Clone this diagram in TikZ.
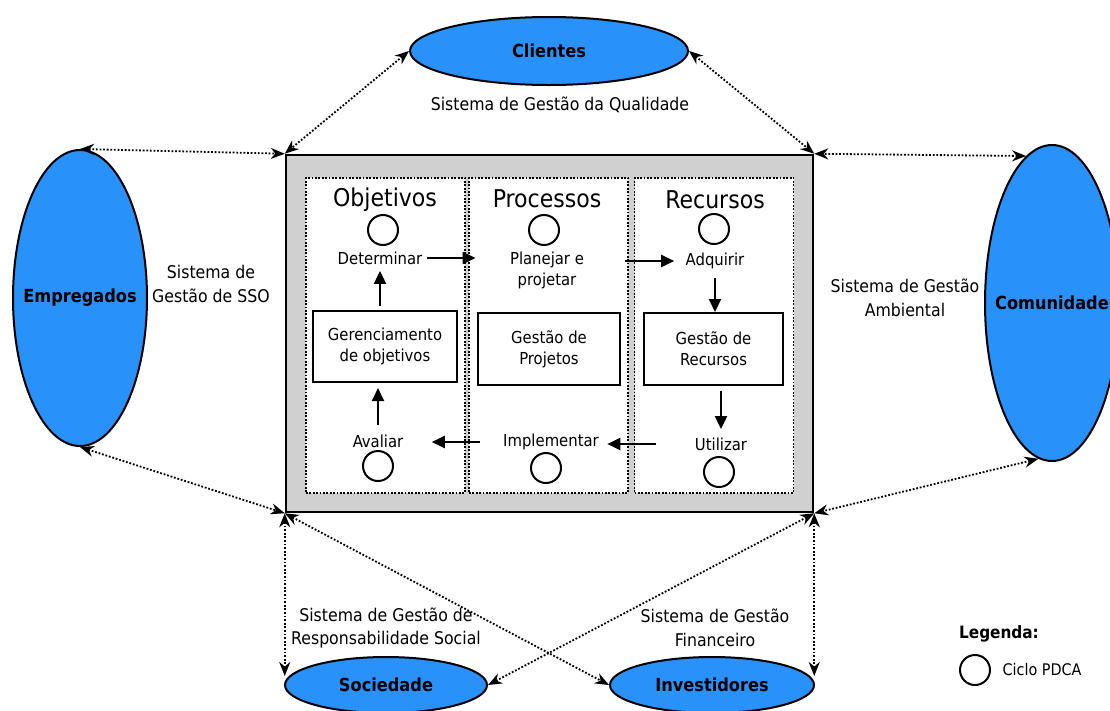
\documentclass[tikz,border=0pt]{standalone}
\usepackage{fontspec}
\setmainfont{DejaVu Sans Condensed}
\usetikzlibrary{arrows.meta,shapes.geometric}
\definecolor{partyblue}{RGB}{40,145,250}
\definecolor{panelgray}{RGB}{208,208,208}
\begin{document}
\begin{tikzpicture}[x=1pt,y=-1pt,
  party/.style={ellipse, draw, line width=2pt, fill=partyblue, inner sep=0pt},
  partytext/.style={inner sep=0pt, font=\bfseries\fontsize{18}{21}\selectfont},
  column/.style={draw, line width=1.8pt, dash pattern=on 1.8pt off 1.6pt, fill=white,
    inner sep=0pt, minimum width=159pt, minimum height=315pt},
  title/.style={font=\fontsize{24.5}{28}\selectfont},
  task/.style={draw, line width=2pt, fill=white, align=center, inner sep=0pt,
    font=\fontsize{16.5}{21}\selectfont},
  lbl/.style={align=center, font=\fontsize{16.5}{21}\selectfont},
  sys/.style={align=center, font=\fontsize{17.5}{23.5}\selectfont},
  pdca/.style={circle, draw, line width=2pt, minimum size=30pt, inner sep=0pt},
  link/.style={line width=1.8pt, dash pattern=on 1.8pt off 1.8pt,
    {Stealth[length=14pt,width=11pt]}-{Stealth[length=14pt,width=11pt]}},
  flow/.style={line width=2pt, -{Triangle[length=13pt,width=12pt]}}]
\useasboundingbox (0,0) rectangle (1110,710);

% central management frame
\node[draw, line width=2.5pt, fill=panelgray, inner sep=0pt,
  minimum width=527pt, minimum height=357pt] (main) at (549.5,333.5) {};
\node[column] (colobj) at (385.5,335.5) {};
\node[column] (colproc) at (548.5,335.5) {};
\node[column] (colrec) at (714,335.5) {};

\node[title] (tobj) at (385,200) {Objetivos};
\node[title] (tproc) at (547,199) {Processos};
\node[title] (trec) at (715,200) {Recursos};

\node[pdca] (c1) at (383,230) {};
\node[pdca] (c2) at (544,230) {};
\node[pdca] (c3) at (714,229) {};
\node[pdca] (c4) at (378,466) {};
\node[pdca] (c5) at (546,468) {};
\node[pdca] (c6) at (719,472) {};

\node[lbl] (det) at (380,258) {Determinar};
\node[lbl] (plan) at (547,270) {Planejar e\\projetar};
\node[lbl] (adq) at (715,261) {Adquirir};
\node[lbl] (aval) at (378,441) {Avaliar};
\node[lbl] (impl) at (551,442) {Implementar};
\node[lbl] (util) at (721,444) {Utilizar};

\node[task, minimum width=144pt, minimum height=71pt] (ger) at (385,346.5) {Gerenciamento\\de objetivos};
\node[task, minimum width=142pt, minimum height=72pt] (gproj) at (549,349) {Gestão de\\Projetos};
\node[task, minimum width=139pt, minimum height=72pt] (grec) at (713.5,349) {Gestão de\\Recursos};

% PDCA flow
\draw[flow, shorten <=1pt, shorten >=31pt] (det.east) -- (det.east -| plan.west);
\draw[flow, shorten <=38pt, shorten >=8pt] (plan.east |- adq.west) -- (adq.west);
\draw[flow, shorten <=5pt] (adq.south) -- (adq.south |- grec.north);
\draw[flow, shorten <=5pt, shorten >=5pt] (util.north |- grec.south) -- (util.north);
\draw[flow, shorten <=35pt, shorten >=5pt] (util.west) -- (util.west -| impl.east);
\draw[flow, shorten <=20pt, shorten >=25pt] (impl.west) -- (impl.west -| aval.east);
\draw[flow, shorten <=6pt, shorten >=5pt] (aval.north) -- (aval.north |- ger.south);
\draw[flow, shorten <=4pt, shorten >=3pt] (ger.north -| det.south) -- (det.south);

% stakeholders
\node[party, minimum width=278pt, minimum height=68pt,
  label={[partytext]center:Clientes}] (cli) at (549,51) {};
\node[party, minimum width=134pt, minimum height=296pt,
  label={[partytext]center:Empregados}] (emp) at (80,298) {};
\node[party, minimum width=134pt, minimum height=316pt,
  label={[partytext]center:Comunidade}] (com) at (1052,303) {};
\node[party, minimum width=202pt, minimum height=56pt,
  label={[partytext]center:Sociedade}] (soc) at (386,685) {};
\node[party, minimum width=204pt, minimum height=56pt,
  label={[partytext]center:Investidores}] (inv) at (712,685) {};

% management systems
\node[sys] (sq) at (560,105) {Sistema de Gestão da Qualidade};
\node[sys] (sso) at (211,284) {Sistema de\\Gestão de SSO};
\node[sys] (sga) at (905,298) {Sistema de Gestão\\Ambiental};
\node[sys] (srs) at (386,628) {Sistema de Gestão de\\Responsabilidade Social};
\node[sys] (sgf) at (715,628) {Sistema de Gestão\\Financeiro};

% relations
\draw[link] (cli.west) -- (main.north west);
\draw[link] (cli.east) -- (main.north east);
\draw[link] (emp.north) -- (main.north west);
\draw[link] (emp.south) -- (main.south west);
\draw[link] (com.100) -- (main.north east);
\draw[link] (com.265) -- (main.south east);
\draw[link] (main.south west) -- ([yshift=9pt]main.south west |- soc.west);
\draw[link] (main.south east) -- ([yshift=9pt]main.south east |- inv.east);
\draw[link] (main.south west) -- (inv.west);
\draw[link] (main.south east) -- (soc.east);

% legend
\node[font=\bfseries\fontsize{17}{20}\selectfont] (leg) at (999,634) {Legenda:};
\node[pdca] (legc) at (975,670) {};
\node[font=\fontsize{16}{19}\selectfont, anchor=west] (legt) at (999,670) {Ciclo PDCA};
\end{tikzpicture}
\end{document}
